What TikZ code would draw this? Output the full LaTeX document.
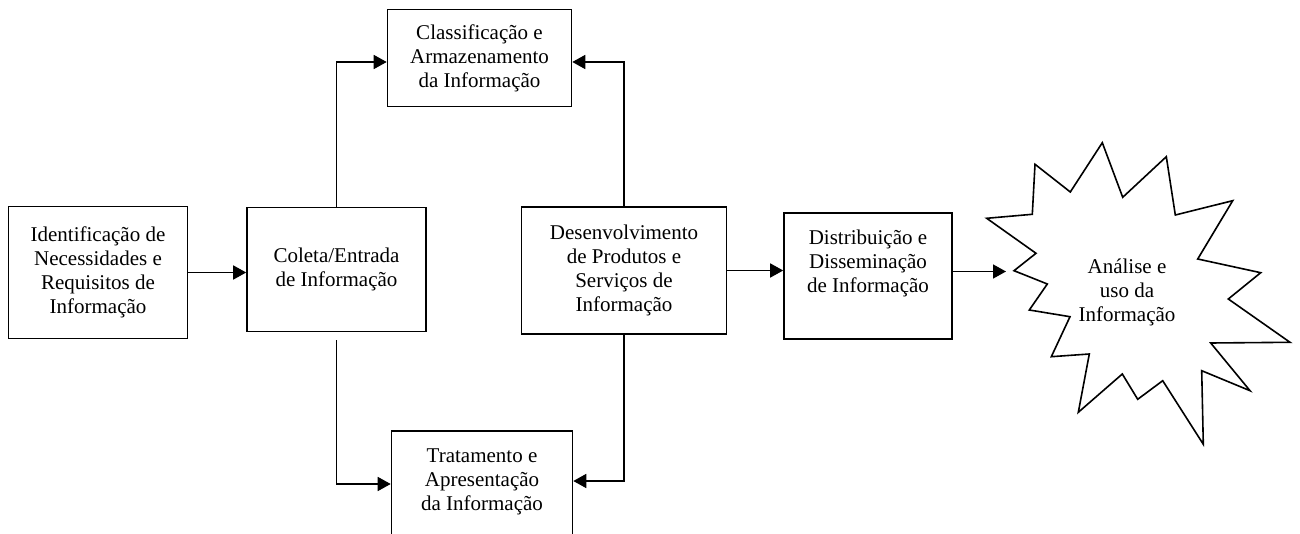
\documentclass[tikz,border=0pt]{standalone}
\usepackage{fontspec}
\setmainfont{Liberation Serif}
\usetikzlibrary{arrows.meta}
\tikzset{
  blk/.style={draw=black,line width=1.6pt,fill=white,align=center,inner sep=0pt},
  link/.style={draw=black,line width=1.6pt,-{Triangle[length=13pt,width=14pt]}},
  burst/.style={draw=black,line width=1.6pt,fill=white,line join=miter},
}
\newcommand{\toptext}[4]{\parbox[c][#2][t]{#1}{\centering\rule{0pt}{#3}#4}}

\begin{document}
\begin{tikzpicture}[x=1pt,y=-1pt,font=\fontsize{21}{24}\selectfont]
\useasboundingbox (0,0) rectangle (1300,534);
\clip (0,0) rectangle (1300,534);
% boxes
\node[blk,minimum width=179pt,minimum height=132pt] (ident) at (98,272.5)
  {Identificação de\\Necessidades e\\Requisitos de\\Informação};
\node[blk,minimum width=179pt,minimum height=124pt] (coleta) at (336.5,269.5)
  {Coleta/Entrada\\de Informação};
\node[blk,minimum width=184pt,minimum height=97pt] (classif) at (479.5,58)
  {Classificação e\\Armazenamento\\da Informação};
\node[blk] (tratam) at (482,484)
  {\toptext{181pt}{106pt}{31pt}{Tratamento e\\Apresentação\\da Informação}};
\node[blk,minimum width=205pt,minimum height=127pt] (desenv) at (624,270.5)
  {Desenvolvimento\\de Produtos e\\Serviços de\\Informação};
\node[blk] (distrib) at (868,276)
  {\toptext{168pt}{126.5pt}{32pt}{Distribuição e\\Disseminação\\de Informação}};
% star
\draw[burst] (1102.3,142.7) -- (1122.7,197.3) -- (1166.3,156.7) -- (1175.3,215)
  -- (1232.7,200.7) -- (1197.7,259) -- (1260.7,272.7) -- (1228.3,299)
  -- (1290,342.3) -- (1210.7,343) -- (1250,390.7) -- (1201.7,370.7)
  -- (1203.3,444.3) -- (1162.7,380.7) -- (1137.7,399.3) -- (1122.3,374)
  -- (1078.3,412.3) -- (1089.3,354) -- (1051.3,356.7) -- (1070,316.7)
  -- (1029.3,310) -- (1047.3,284) -- (1014,270.7) -- (1036,253.3)
  -- (986.7,218.3) -- (1032.3,214.3) -- (1035,164.3) -- (1070.3,192) -- cycle;
\node[align=center] (analise) at (1127,292) {Análise e\\uso da\\Informação};
\coordinate (burstin) at (1006,271.5);
% connectors
\draw[link] (ident.east) -- (ident.east -| coleta.west);
\draw[link] (coleta.north) |- ([yshift=-4pt]classif.west);
\draw[link] (desenv.north) |- ([yshift=-4pt]classif.east);
\draw[link] ([yshift=-8pt]coleta.south) |- (tratam.west);
\draw[link] (desenv.south) |- ([yshift=3pt]tratam.east);
\draw[link] (desenv.east) -- (desenv.east -| distrib.west);
\draw[link] (burstin -| distrib.east) -- (burstin);
\end{tikzpicture}
\end{document}
